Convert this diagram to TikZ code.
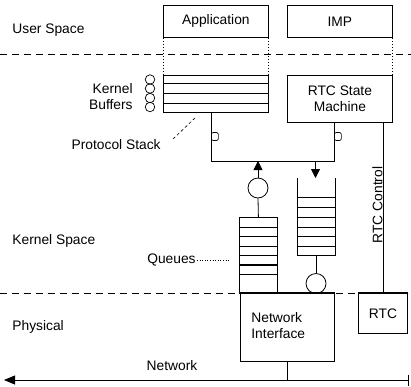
\documentclass[tikz,border=0pt]{standalone}
\usepackage{fontspec}
\setmainfont{Liberation Sans}
\usetikzlibrary{arrows.meta,calc}
\begin{document}
\begin{tikzpicture}[x=1pt,y=-1pt,line width=0.8pt,
  every node/.style={font=\fontsize{13.8}{16}\selectfont,inner sep=0pt},
  box/.style={draw,anchor=north west,align=center},
  lbl/.style={anchor=west},
  divider/.style={dash pattern=on 7pt off 5pt},
  guide/.style={dotted,line width=1pt},
  leader/.style={dotted,line width=0.6pt},
  thickrule/.style={line width=1.4pt},
  ring/.style={draw,circle,minimum size=20pt},
  bead/.style={draw,circle,minimum size=9.5pt,line width=0.7pt},
  port/.style={draw,rounded corners=2pt,line width=0.7pt,minimum width=7pt,minimum height=8pt,anchor=west},
  flow/.style={-{Triangle[length=9pt,width=9pt]}}]
\useasboundingbox (0,0) rectangle (411,386);

% layer labels and dividers
\node[lbl] (user) at (12,30) {User Space};
\node[lbl] (kernel) at (12,241) {Kernel Space};
\node[lbl] (phys) at (12,327) {Physical};
\coordinate (d1l) at (0,54);   \coordinate (d1r) at (411,54);
\coordinate (d2l) at (0,293);  \coordinate (d2r) at (408,293);
\draw[divider] (d1l) -- (d1r);
\draw[divider] (d2l) -- (d2r);

% user space processes
\node[box,minimum width=105pt,minimum height=32pt] (app) at (163,5) {Application};
\node[box,minimum width=105pt,minimum height=32pt] (imp) at (287,5) {IMP};

% kernel buffers of the protocol stack
\node[draw,anchor=north west,minimum width=105pt,minimum height=37pt] (kb) at (163,75) {};
\draw[thickrule] ($(kb.north west)+(0,8.5)$) -- ($(kb.north east)+(0,8.5)$);
\draw ($(kb.north west)+(0,18)$) -- ($(kb.north east)+(0,18)$);
\draw ($(kb.north west)+(0,28)$) -- ($(kb.north east)+(0,28)$);
\foreach \y/\n in {79.5/b1,88.5/b2,98/b3,107/b4} \node[bead] (\n) at (150,\y) {};
\node[anchor=east] (kword) at (133,89) {Kernel};
\node[anchor=east] (bword) at (133,105) {Buffers};

% dotted guides from processes down into the kernel
\draw[guide] (app.south west) -- (kb.north west);
\draw[guide] (app.south east) -- (kb.north east);

% RTC state machine
\node[box,minimum width=105pt,minimum height=47pt] (sm) at (287,75) {RTC State\\Machine};
\draw[guide] (imp.south east) -- (sm.north east);

% protocol stack bus
\coordinate (busl) at (211,161);
\coordinate (busr) at (334,161);
\draw (kb.south -| busl) -- (busl) -- (busr) -- (sm.south -| busr);
\node[port] (p1) at (211,136.5) {};
\node[port] (p2) at (334,136.5) {};
\node[anchor=east] (pstack) at (161,145) {Protocol Stack};
\coordinate (psa) at (173,139);
\coordinate (psb) at (196,117);
\draw[dash pattern=on 3pt off 2.5pt,line width=0.6pt] (psa) -- (psb);

% inbound queue
\node[anchor=north west,minimum width=38pt,minimum height=76pt] (qin) at (239,217) {};
\draw (qin.south west) -- (qin.north west) -- (qin.north east) -- (qin.south east);
\foreach \d in {10,19.5,29,38,57} \draw ($(qin.north west)+(0,\d)$) -- ($(qin.north east)+(0,\d)$);
\draw[thickrule] ($(qin.north west)+(0,48)$) -- ($(qin.north east)+(0,48)$);
\node[ring] (c1) at (258,188) {};
\draw (qin.north) -- (c1.south);
\draw[flow] (c1.north) -- (c1.north |- busl);

% outbound queue
\node[anchor=north west,minimum width=38pt,minimum height=77pt] (qout) at (297,178) {};
\draw (qout.north west) -- (qout.south west) -- (qout.south east) -- (qout.north east);
\foreach \d in {19,29,39,49,58,68} \draw ($(qout.north west)+(0,\d)$) -- ($(qout.north east)+(0,\d)$);
\coordinate (qo) at (315.5,161);
\draw[flow] (qo) -- (qout.north -| qo);
\node[ring] (c2) at (316,283.5) {};
\draw (qout.south -| c2) -- (c2.north);

\node[anchor=east] (qword) at (196,260) {Queues};
\coordinate (qla) at (197,260);
\coordinate (qlb) at (229,260);
\draw[leader] (qla) -- (qlb);

% physical layer
\node[draw,anchor=north west,minimum width=94pt,minimum height=68pt] (ni) at (240,293) {};
\node[anchor=west,align=left] (nitext) at (251,326) {Network\\Interface};
\node[draw,anchor=north west,minimum width=49pt,minimum height=40pt] (rtc) at (358,293) {RTC};
\draw[line width=1.2pt] (ni.north west) -- (ni.north east);
\draw[line width=1.2pt] (rtc.north west) -- (rtc.north east);

% RTC control line
\draw (sm.south -| rtc.north) -- (rtc.north);
\node[rotate=90,anchor=south] (rtcctl) at (383,205) {RTC Control};

% network
\coordinate (netl) at (4,380);
\coordinate (netr) at (409,380);
\draw[{Triangle[length=11pt,width=9pt]}-{Bar[width=11pt,line width=1.5pt]}] (netl) -- (netr);
\draw (ni.south) -- (ni.south |- netl);
\node (netword) at (172,366) {Network};
\end{tikzpicture}
\end{document}
